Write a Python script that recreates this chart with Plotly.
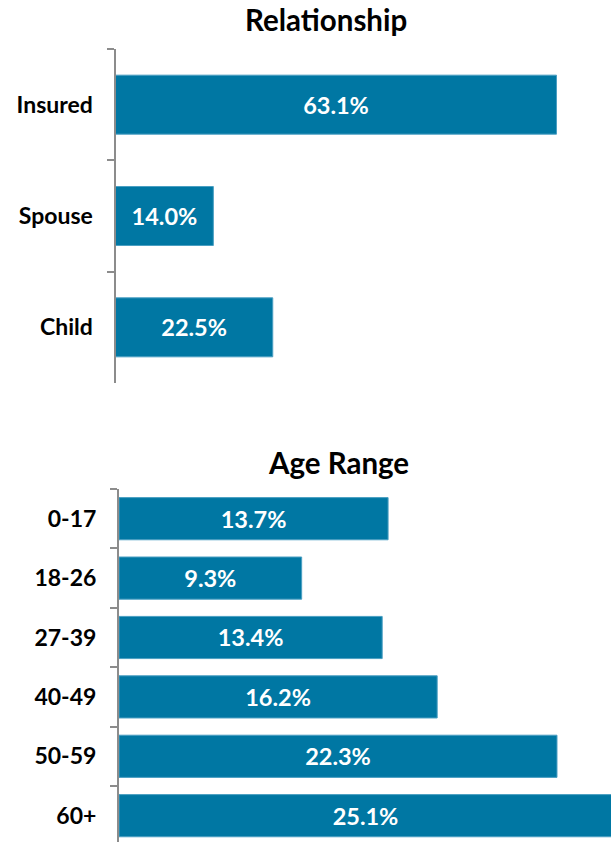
import plotly.graph_objects as go

rel_categories = ["Insured", "Spouse", "Child"]
rel_values = [63.1, 14.0, 22.5]
age_categories = ["0-17", "18-26", "27-39", "40-49", "50-59", "60+"]
age_values = [13.7, 9.3, 13.4, 16.2, 22.3, 25.1]
title_rel = "Relationship"
title_age = "Age Range"

W, H = 611, 842
BAR = "#0077A3"
EDGE = "#4A9FC2"
AX = "#8C8C8C"
FONT = "Lato"

def py(p):
    return 1 - p / H

fig = go.Figure()
fig.add_trace(go.Bar(
    x=rel_values, y=rel_categories, orientation="h",
    xaxis="x", yaxis="y",
    marker=dict(color=BAR, line=dict(color=EDGE, width=1)),
    width=0.53,
    text=[f"{v:.1f}%" for v in rel_values], textposition="inside",
    insidetextanchor="middle", constraintext="none",
    textfont=dict(family=FONT, size=23.5, color="white", weight="bold"),
    hoverinfo="skip",
))
fig.add_trace(go.Bar(
    x=age_values, y=age_categories, orientation="h",
    xaxis="x2", yaxis="y2",
    marker=dict(color=BAR, line=dict(color=EDGE, width=1)),
    width=0.71,
    text=[f"{v:.1f}%" for v in age_values], textposition="inside",
    insidetextanchor="middle", constraintext="none",
    textfont=dict(family=FONT, size=23.5, color="white", weight="bold"),
    hoverinfo="skip",
))

yax = dict(showline=True, linecolor=AX, linewidth=2, ticks="outside",
           tickcolor=AX, tickwidth=2, ticklen=7, tickson="boundaries",
           showgrid=False, zeroline=False, ticklabelstandoff=16,
           tickfont=dict(family=FONT, size=23, color="black", weight="bold"))

fig.update_layout(
    width=W, height=H, margin=dict(l=0, r=0, t=0, b=0),
    paper_bgcolor="white", plot_bgcolor="white", showlegend=False,
    xaxis=dict(domain=[115.5 / W, 1], range=[0, 70.9], visible=False, anchor="y"),
    yaxis=dict(domain=[py(383), py(49)], range=[2.5, -0.5], anchor="x", **yax),
    xaxis2=dict(domain=[119 / W, 1], range=[0, 25.05], visible=False, anchor="y2"),
    yaxis2=dict(domain=[0, py(489)], range=[5.443, -0.5], anchor="x2", **yax),
    annotations=[
        dict(text=title_rel, x=325.5 / W, y=py(20), xref="paper", yref="paper",
             showarrow=False, xanchor="center", yanchor="middle",
             font=dict(family=FONT, size=29.5, color="black", weight="bold")),
        dict(text=title_age, x=338 / W, y=py(462), xref="paper", yref="paper",
             showarrow=False, xanchor="center", yanchor="middle",
             font=dict(family=FONT, size=29.5, color="black", weight="bold")),
    ],
)
fig.write_html(
    "out.html",
    config={"displayModeBar": False},
    post_script="document.body.style.margin='0';document.body.style.overflow='hidden';",
)
